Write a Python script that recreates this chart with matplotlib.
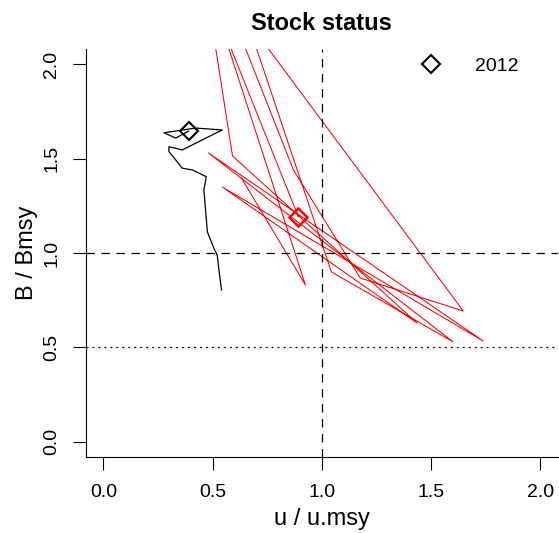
import matplotlib
matplotlib.use("Agg")
import matplotlib.pyplot as plt
from matplotlib.lines import Line2D

plt.rcParams["font.family"] = ["Liberation Sans", "DejaVu Sans"]
plt.rcParams["lines.scale_dashes"] = False

# Stock trajectory, 1995-2012
years = list(range(1995, 2013))

# operating-model trajectory (black)
u_true = [0.541, 0.529, 0.521, 0.506, 0.476, 0.460, 0.471, 0.407, 0.361,
          0.331, 0.300, 0.300, 0.361, 0.544, 0.422, 0.277, 0.331, 0.390]
b_true = [0.804, 0.910, 0.990, 1.025, 1.113, 1.335, 1.405, 1.441, 1.450,
          1.494, 1.538, 1.564, 1.547, 1.653, 1.663, 1.638, 1.610, 1.647]

# assessment estimates (red)
u_est = [0.632, 0.925, 0.459, 0.591, 1.437, 0.545, 1.739, 0.481, 1.602,
         1.044, 0.596, 0.504, 1.648, 1.176, 0.870, 0.527, 0.431, 0.893]
b_est = [1.398, 0.831, 2.496, 1.515, 0.629, 1.350, 0.534, 1.531, 0.529,
         0.900, 2.448, 2.475, 0.693, 0.868, 1.441, 2.448, 2.528, 1.192]

# reference points
u_ref = 1.0
b_ref = 1.0
b_limit = 0.5

ticks = [0.0, 0.5, 1.0, 1.5, 2.0]
tick_labels = ["0.0", "0.5", "1.0", "1.5", "2.0"]

fig = plt.figure(figsize=(5.59, 5.33), dpi=100)
ax = fig.add_axes([0.1538, 0.1430, 0.8437, 0.7643])

ax.plot(u_true, b_true, color="black", lw=0.9)
ax.plot(u_est, b_est, color="red", lw=0.75)

ax.plot(u_true[-1], b_true[-1], marker="D", ms=9.5, mfc="none",
        mec="black", mew=1.5, ls="none")
ax.plot(u_est[-1], b_est[-1], marker="D", ms=9.5, mfc="none",
        mec="red", mew=1.8, ls="none")

ax.axvline(u_ref, color="black", lw=0.9, dashes=(6, 4.8))
ax.axhline(b_ref, color="black", lw=0.9, dashes=(6, 4.8))
ax.axhline(b_limit, color="black", lw=0.9, dashes=(1.4, 2.9))

ax.set_xlim(-0.08, 2.08)
ax.set_ylim(-0.08, 2.08)
ax.set_xticks(ticks)
ax.set_xticklabels(tick_labels)
ax.set_yticks(ticks)
ax.set_yticklabels(tick_labels)
ax.tick_params(length=9.4, width=0.8, direction="out", labelsize=14,
               colors="black")
ax.tick_params(axis="x", pad=10)
ax.tick_params(axis="y", pad=9)
for lab in ax.get_yticklabels():
    lab.set_rotation(90)
    lab.set_va("center")

for side in ("top", "right"):
    ax.spines[side].set_visible(False)
for side in ("left", "bottom"):
    ax.spines[side].set_linewidth(0.8)

ax.set_xlabel("u / u.msy", fontsize=17)
ax.set_ylabel("B / Bmsy", fontsize=17)
ax.xaxis.set_label_coords(0.5, -0.125)
ax.yaxis.set_label_coords(-0.101, 0.5)

fig.text(0.5757, 0.9568, "Stock status", fontsize=17, fontweight="bold",
         ha="center", va="center")

handle = Line2D([], [], marker="D", ms=9.5, mfc="none", mec="black",
                mew=1.5, ls="none")
ax.legend(handles=[handle], labels=[str(years[-1])], loc="center left",
          bbox_to_anchor=(0.711, 0.959), frameon=False, fontsize=14,
          handlelength=1.0, handletextpad=1.76, borderpad=0,
          borderaxespad=0)

fig.savefig("out.png", dpi=100)
